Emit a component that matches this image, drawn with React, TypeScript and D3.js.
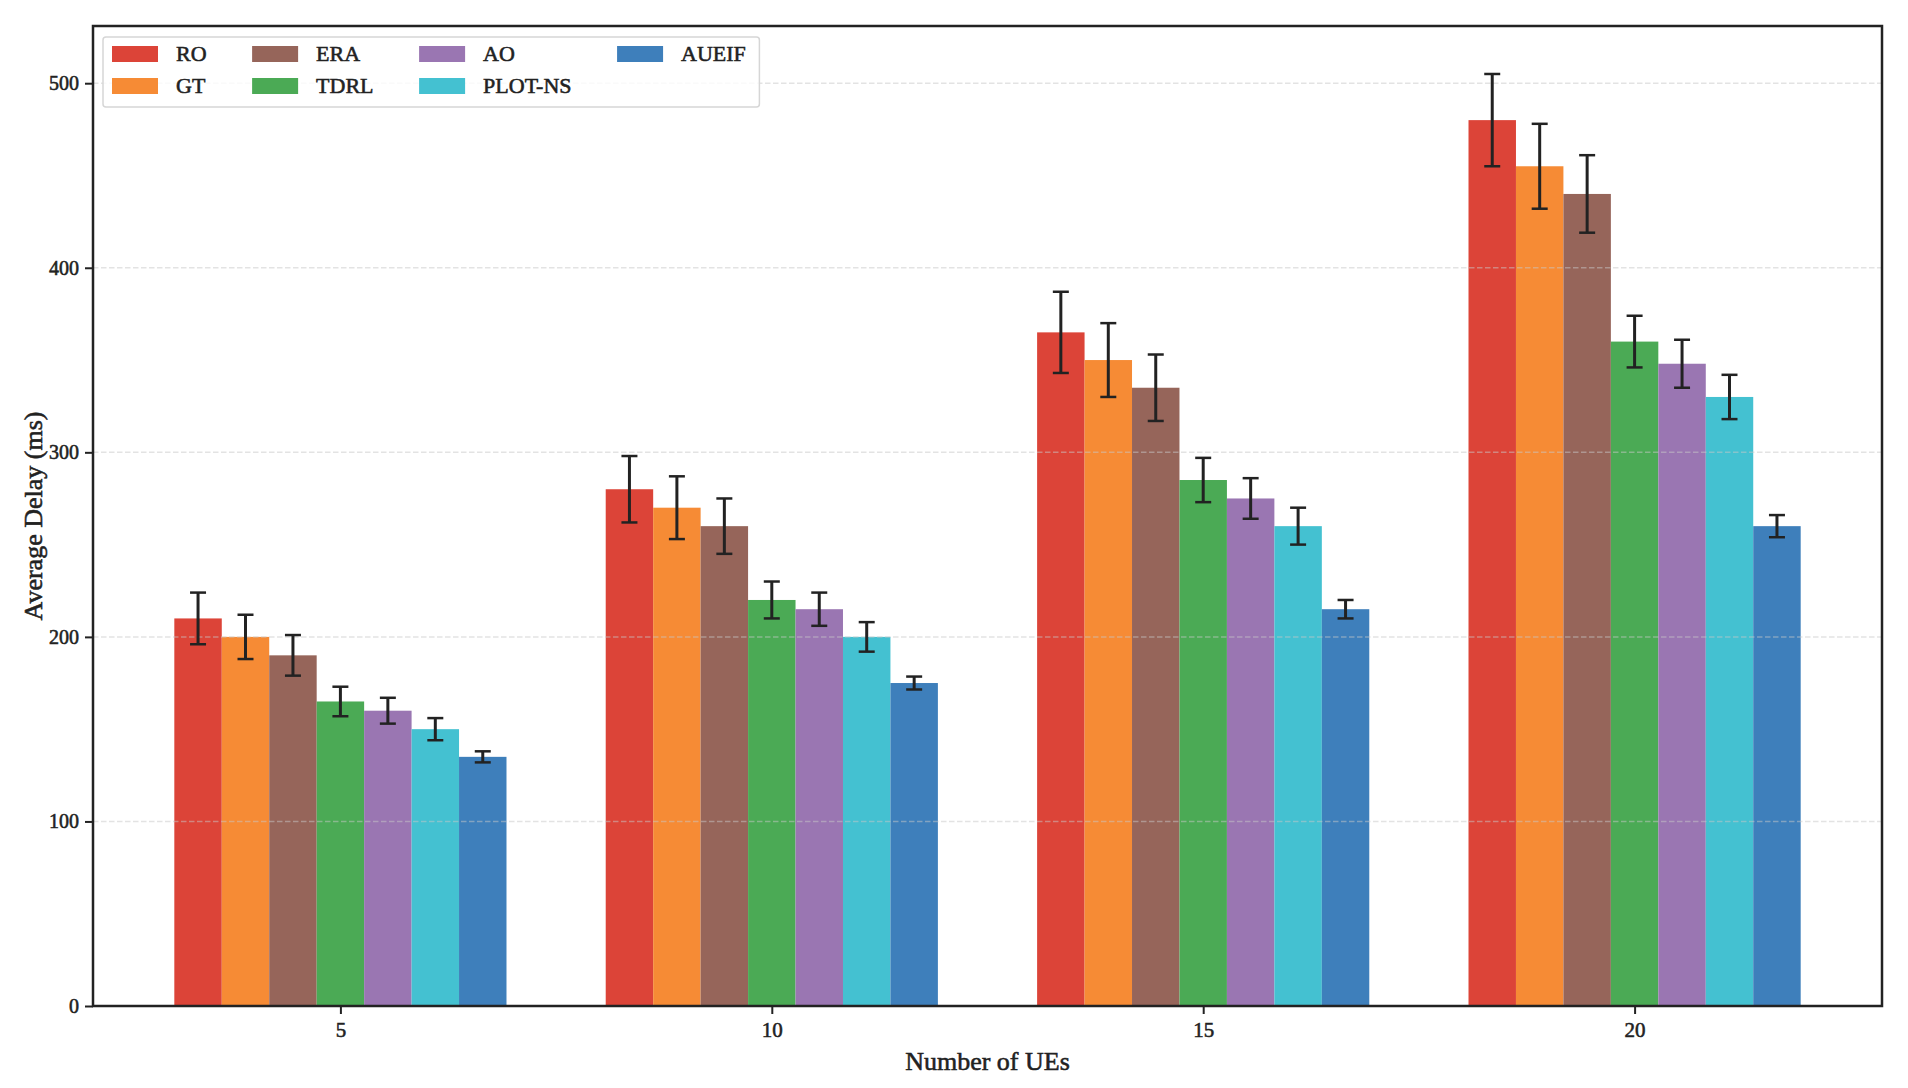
/**
 * DelayChart - grouped bar chart of average delay (ms) per method vs. number of UEs,
 * with symmetric error bars, dashed horizontal grid and a 4-column legend.
 */

import { useEffect, useRef } from 'react';
import * as d3 from 'd3';

const UE_COUNTS = ['5', '10', '15', '20'];
const METHODS = ['RO', 'GT', 'ERA', 'TDRL', 'AO', 'PLOT-NS', 'AUEIF'];
const METHOD_COLORS = ['#dc4438', '#f68b35', '#96655a', '#4baa55', '#9a76b2', '#44c1d1', '#3e7fbb'];

// mean delay per method, one value per UE count
const RO = [210, 280, 365, 480];
const GT = [200, 270, 350, 455];
const ERA = [190, 260, 335, 440];
const TDRL = [165, 220, 285, 360];
const AO = [160, 215, 275, 348];
const PLOT_NS = [150, 200, 260, 330];
const AUEIF = [135, 175, 215, 260];

// half-width of the error bar per method
const RO_ERR = [14, 18, 22, 25];
const GT_ERR = [12, 17, 20, 23];
const ERA_ERR = [11, 15, 18, 21];
const TDRL_ERR = [8, 10, 12, 14];
const AO_ERR = [7, 9, 11, 13];
const PLOT_NS_ERR = [6, 8, 10, 12];
const AUEIF_ERR = [3, 3.5, 5, 6];

const Y_TICKS = [0, 100, 200, 300, 400, 500];

const SERIES = [RO, GT, ERA, TDRL, AO, PLOT_NS, AUEIF];
const ERRORS = [RO_ERR, GT_ERR, ERA_ERR, TDRL_ERR, AO_ERR, PLOT_NS_ERR, AUEIF_ERR];

const WIDTH = 1908;
const HEIGHT = 1088;
const PLOT = { left: 93, right: 1882, top: 26, bottom: 1006 };
const BAR_WIDTH = 0.11;
const FONT = '"Liberation Serif", "Times New Roman", Times, serif';
const INK = '#222222';
// the reference text is a touch heavier than plain Liberation Serif
const TEXT_STROKE = 0.55;

function textWidth(text: string, size: number) {
  const ctx = document.createElement('canvas').getContext('2d');
  if (!ctx) return text.length * size * 0.5;
  ctx.font = `${size}px ${FONT}`;
  return ctx.measureText(text).width + TEXT_STROKE;
}

function DelayChart() {
  const svgRef = useRef<SVGSVGElement>(null);

  useEffect(() => {
    if (!svgRef.current) return;
    const svg = d3.select(svgRef.current);
    svg.selectAll('*').remove();

    const nSeries = METHODS.length;
    const half = ((nSeries - 1) / 2) * BAR_WIDTH + BAR_WIDTH / 2;
    const span = UE_COUNTS.length - 1 + 2 * half;
    const xPad = span * 0.05;
    const xScale = d3
      .scaleLinear()
      .domain([-half - xPad, UE_COUNTS.length - 1 + half + xPad])
      .range([PLOT.left, PLOT.right]);
    const yScale = d3.scaleLinear().domain([0, 531]).range([PLOT.bottom, PLOT.top]);

    const barPx = xScale(BAR_WIDTH) - xScale(0);

    // Bars
    const bars = svg.append('g');
    SERIES.forEach((values, s) => {
      values.forEach((v, i) => {
        const cx = xScale(i + (s - (nSeries - 1) / 2) * BAR_WIDTH);
        bars
          .append('rect')
          .attr('x', cx - barPx / 2)
          .attr('y', yScale(v))
          .attr('width', barPx)
          .attr('height', yScale(0) - yScale(v))
          .attr('fill', METHOD_COLORS[s]);
      });
    });

    // Grid drawn over bars, translucent
    svg
      .append('g')
      .selectAll('line')
      .data(Y_TICKS.filter(t => t > 0))
      .enter()
      .append('line')
      .attr('x1', PLOT.left)
      .attr('x2', PLOT.right)
      .attr('y1', (d: number) => yScale(d))
      .attr('y2', (d: number) => yScale(d))
      .attr('stroke', '#c8c8c8')
      .attr('stroke-opacity', 0.5)
      .attr('stroke-width', 1.5)
      .attr('stroke-dasharray', '5.5,2.5');

    // Error bars
    const errG = svg.append('g').attr('stroke', INK);
    SERIES.forEach((values, s) => {
      values.forEach((v, i) => {
        const cx = xScale(i + (s - (nSeries - 1) / 2) * BAR_WIDTH);
        const e = ERRORS[s][i];
        const y1 = yScale(v + e);
        const y2 = yScale(v - e);
        errG.append('line').attr('x1', cx).attr('x2', cx).attr('y1', y1).attr('y2', y2).attr('stroke-width', 3);
        [y1, y2].forEach(y => {
          errG
            .append('line')
            .attr('x1', cx - 8)
            .attr('x2', cx + 8)
            .attr('y1', y)
            .attr('y2', y)
            .attr('stroke-width', 2.5);
        });
      });
    });

    // Spines
    svg
      .append('rect')
      .attr('x', PLOT.left)
      .attr('y', PLOT.top)
      .attr('width', PLOT.right - PLOT.left)
      .attr('height', PLOT.bottom - PLOT.top)
      .attr('fill', 'none')
      .attr('stroke', INK)
      .attr('stroke-width', 2.5);

    const styleText = (sel: any, size: number) =>
      sel
        .attr('font-family', FONT)
        .attr('font-size', `${size}px`)
        .attr('fill', INK)
        .attr('stroke', INK)
        .attr('stroke-width', TEXT_STROKE);

    // Y axis
    const yAxis = svg
      .append('g')
      .attr('transform', `translate(${PLOT.left},0)`)
      .call(d3.axisLeft(yScale).tickValues(Y_TICKS).tickSize(8).tickPadding(6).tickFormat(d3.format('d')));
    yAxis.select('.domain').remove();
    yAxis.selectAll('line').attr('stroke', INK).attr('stroke-width', 2);
    styleText(yAxis.selectAll('text'), 20);

    // X axis
    const xAxis = svg
      .append('g')
      .attr('transform', `translate(0,${PLOT.bottom})`)
      .call(
        d3
          .axisBottom(xScale)
          .tickValues(UE_COUNTS.map((_, i) => i))
          .tickSize(8)
          .tickPadding(8)
          .tickFormat((d: number) => UE_COUNTS[d])
      );
    xAxis.select('.domain').remove();
    xAxis.selectAll('line').attr('stroke', INK).attr('stroke-width', 2);
    styleText(xAxis.selectAll('text'), 21);

    // Axis labels
    styleText(
      svg
        .append('text')
        .attr('x', (PLOT.left + PLOT.right) / 2)
        .attr('y', 1070)
        .attr('text-anchor', 'middle')
        .text('Number of UEs'),
      26
    );
    styleText(
      svg
        .append('text')
        .attr('transform', `translate(42,${(PLOT.top + PLOT.bottom) / 2}) rotate(-90)`)
        .attr('text-anchor', 'middle')
        .text('Average Delay (ms)'),
      26
    );

    // Legend: 4 columns, filled column by column (2 rows)
    const LEG_FONT = 22;
    const handleW = 46;
    const handleH = 16;
    const handlePad = 18;
    const colSpacing = 45;
    const rows = 2;
    const nCols = Math.ceil(nSeries / rows);
    const legLeft = 103;
    const legTop = 37;
    const padL = 9;
    const padR = 13;
    const rowStep = 32;
    const colX: number[] = [];
    let cursor = legLeft + padL;
    for (let c = 0; c < nCols; c++) {
      colX.push(cursor);
      const names = METHODS.slice(c * rows, c * rows + rows);
      const maxW = Math.max(...names.map(n => textWidth(n, LEG_FONT)));
      cursor += handleW + handlePad + maxW + (c < nCols - 1 ? colSpacing : 0);
    }
    const legRight = cursor + padR;
    const legend = svg.append('g');
    legend
      .append('rect')
      .attr('x', legLeft)
      .attr('y', legTop)
      .attr('width', legRight - legLeft)
      .attr('height', 70)
      .attr('rx', 3)
      .attr('fill', '#ffffff')
      .attr('fill-opacity', 0.8)
      .attr('stroke', '#d6d6d6')
      .attr('stroke-width', 1.5);
    METHODS.forEach((name, s) => {
      const c = Math.floor(s / rows);
      const r = s % rows;
      const x = colX[c];
      const yMid = legTop + 17 + r * rowStep;
      legend
        .append('rect')
        .attr('x', x)
        .attr('y', yMid - handleH / 2)
        .attr('width', handleW)
        .attr('height', handleH)
        .attr('fill', METHOD_COLORS[s]);
      styleText(
        legend
          .append('text')
          .attr('x', x + handleW + handlePad)
          .attr('y', yMid + 7)
          .text(name),
        LEG_FONT
      );
    });
  }, []);

  return <svg ref={svgRef} width={WIDTH} height={HEIGHT} style={{ display: 'block', background: '#ffffff' }} />;
}

export default function App() {
  useEffect(() => {
    document.body.style.margin = '0';
    document.body.style.overflow = 'hidden';
  }, []);
  return <DelayChart />;
}
